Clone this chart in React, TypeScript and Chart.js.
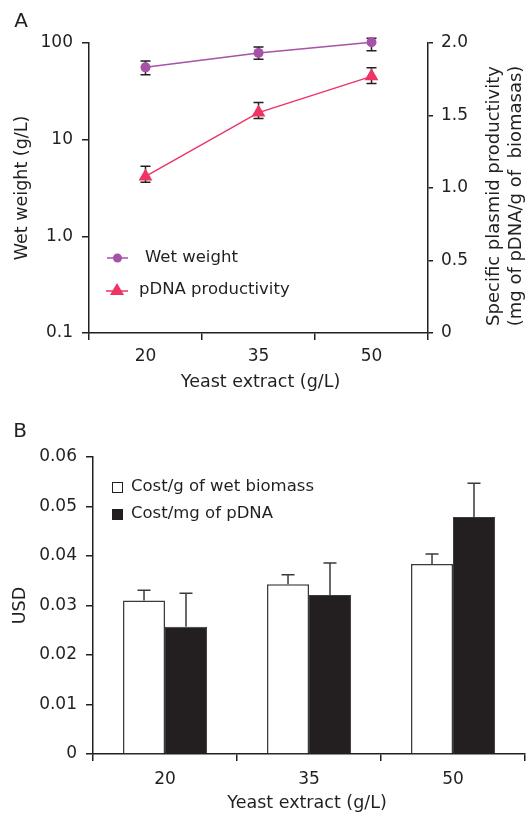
import React, { useEffect, useRef } from 'react';
import { Chart, registerables } from 'chart.js';

Chart.register(...registerables);

// ---------- Data ----------
const categories = ['20', '35', '50'];

// Panel A
const wetWeight = [56, 79, 102];
const wetWeightLow = [47, 68, 83];
const wetWeightHigh = [65, 91, 112];
const pdnaProductivity = [1.08, 1.52, 1.77];
const pdnaLow = [1.04, 1.48, 1.72];
const pdnaHigh = [1.15, 1.59, 1.83];
const leftTickValues = [0.1, 1, 10, 100];
const leftTickLabels = ['0.1', '1.0', '10', '100'];
const rightTickValues = [0, 0.5, 1, 1.5, 2];
const rightTickLabels = ['0', '0.5', '1.0', '1.5', '2.0'];

// Panel B
const costBiomass = [0.031, 0.0343, 0.0384];
const costBiomassHigh = [0.0331, 0.0362, 0.0404];
const costPdna = [0.0257, 0.0321, 0.0479];
const costPdnaHigh = [0.0325, 0.0386, 0.0547];
const usdTickValues = [0, 0.01, 0.02, 0.03, 0.04, 0.05, 0.06];
const usdTickLabels = ['0', '0.01', '0.02', '0.03', '0.04', '0.05', '0.06'];

// ---------- Styles ----------
const INK = '#231f20';
const PURPLE = '#a552a8';
const PINK = '#ed3465';
const FAMILY = '"DejaVu Sans", sans-serif';
const tickFont = { family: FAMILY, size: 17 };

function drawText(ctx: CanvasRenderingContext2D, text: string, x: number, y: number, size: number, rotate = false, align: CanvasTextAlign = 'center') {
  ctx.save();
  ctx.font = `${size}px ${FAMILY}`;
  ctx.fillStyle = INK;
  ctx.textAlign = align;
  ctx.textBaseline = 'middle';
  ctx.translate(x, y);
  if (rotate) ctx.rotate(-Math.PI / 2);
  ctx.fillText(text, 0, 0);
  ctx.restore();
}

const panelAPlugin = {
  id: 'panelA',
  beforeDatasetsDraw(chart: any) {
    const ctx = chart.ctx as CanvasRenderingContext2D;
    const sets = [
      { idx: 0, axis: 'y', lo: wetWeightLow, hi: wetWeightHigh },
      { idx: 1, axis: 'y1', lo: pdnaLow, hi: pdnaHigh },
    ];
    ctx.save();
    ctx.strokeStyle = INK;
    ctx.lineWidth = 1.5;
    sets.forEach((s) => {
      const meta = chart.getDatasetMeta(s.idx);
      const sc = chart.scales[s.axis];
      meta.data.forEach((pt: any, j: number) => {
        const x = pt.x;
        const y1 = sc.getPixelForValue(s.lo[j]);
        const y2 = sc.getPixelForValue(s.hi[j]);
        ctx.beginPath();
        ctx.moveTo(x, y1);
        ctx.lineTo(x, y2);
        ctx.moveTo(x - 5, y1);
        ctx.lineTo(x + 5, y1);
        ctx.moveTo(x - 5, y2);
        ctx.lineTo(x + 5, y2);
        ctx.stroke();
      });
    });
    ctx.restore();
  },
  afterDraw(chart: any) {
    const ctx = chart.ctx as CanvasRenderingContext2D;
    const area = chart.chartArea;
    const cy = (area.top + area.bottom) / 2;
    drawText(ctx, 'A', 21, 22, 20);
    drawText(ctx, 'Wet weight (g/L)', 22, cy, 17.5, true);
    drawText(ctx, 'Yeast extract (g/L)', (area.left + area.right) / 2 + 2, 382, 17.5);
    drawText(ctx, 'Specific plasmid productivity', 494, cy + 8, 18, true);
    drawText(ctx, '(mg of pDNA/g of  biomasas)', 516, cy + 8, 18, true);

    // legend
    ctx.save();
    ctx.lineWidth = 1.5;
    ctx.strokeStyle = PURPLE;
    ctx.beginPath();
    ctx.moveTo(107, 258);
    ctx.lineTo(128, 258);
    ctx.stroke();
    ctx.fillStyle = PURPLE;
    ctx.beginPath();
    ctx.arc(117.5, 258, 4.5, 0, Math.PI * 2);
    ctx.fill();
    ctx.strokeStyle = PINK;
    ctx.beginPath();
    ctx.moveTo(106, 291);
    ctx.lineTo(128, 291);
    ctx.stroke();
    ctx.fillStyle = PINK;
    ctx.beginPath();
    ctx.moveTo(117, 283);
    ctx.lineTo(124, 295);
    ctx.lineTo(110, 295);
    ctx.closePath();
    ctx.fill();
    ctx.restore();
    drawText(ctx, 'Wet weight', 145, 258, 16.5, false, 'left');
    drawText(ctx, 'pDNA productivity', 139, 290, 16.5, false, 'left');
  },
};

const panelBPlugin = {
  id: 'panelB',
  afterDatasetsDraw(chart: any) {
    const ctx = chart.ctx as CanvasRenderingContext2D;
    const sc = chart.scales.y;
    const highs = [costBiomassHigh, costPdnaHigh];
    const vals = [costBiomass, costPdna];
    ctx.save();
    ctx.strokeStyle = '#3a3a3a';
    ctx.lineWidth = 1.5;
    [0, 1].forEach((i) => {
      const meta = chart.getDatasetMeta(i);
      meta.data.forEach((bar: any, j: number) => {
        const x = bar.x;
        const yTop = sc.getPixelForValue(vals[i][j]);
        const yHi = sc.getPixelForValue(highs[i][j]);
        ctx.beginPath();
        ctx.moveTo(x, yTop);
        ctx.lineTo(x, yHi);
        ctx.moveTo(x - 6.5, yHi);
        ctx.lineTo(x + 6.5, yHi);
        ctx.stroke();
      });
    });
    ctx.restore();
  },
  afterDraw(chart: any) {
    const ctx = chart.ctx as CanvasRenderingContext2D;
    const area = chart.chartArea;
    drawText(ctx, 'B', 20, 22, 20);
    drawText(ctx, 'USD', 20, (area.top + area.bottom) / 2, 17.5, true);
    drawText(ctx, 'Yeast extract (g/L)', (area.left + area.right) / 2 - 2, 393, 17.5);
    ctx.save();
    ctx.strokeStyle = INK;
    ctx.lineWidth = 1;
    ctx.fillStyle = '#ffffff';
    ctx.fillRect(112.5, 72.5, 10, 10);
    ctx.strokeRect(112.5, 72.5, 10, 10);
    ctx.fillStyle = INK;
    ctx.fillRect(112, 99, 11, 11);
    ctx.restore();
    drawText(ctx, 'Cost/g of wet biomass', 131, 77, 16.5, false, 'left');
    drawText(ctx, 'Cost/mg of pDNA', 131, 104, 16.5, false, 'left');
  },
};

const axisCommon = {
  grid: { drawOnChartArea: false, drawTicks: true, color: INK, lineWidth: 1.5, tickLength: 7 },
  border: { display: true, color: INK, width: 1.5 },
};

export default function App() {
  const refA = useRef<HTMLCanvasElement>(null);
  const refB = useRef<HTMLCanvasElement>(null);

  useEffect(() => {
    const chartA = new Chart(refA.current as HTMLCanvasElement, {
      type: 'line',
      data: {
        labels: categories,
        datasets: [
          {
            label: 'Wet weight',
            data: wetWeight,
            yAxisID: 'y',
            borderColor: PURPLE,
            backgroundColor: PURPLE,
            borderWidth: 1.5,
            pointStyle: 'circle',
            pointRadius: 5,
            pointBorderWidth: 0,
            clip: false,
          },
          {
            label: 'pDNA productivity',
            data: pdnaProductivity,
            yAxisID: 'y1',
            borderColor: PINK,
            backgroundColor: PINK,
            borderWidth: 1.5,
            pointStyle: 'triangle',
            pointRadius: 8,
            pointBorderWidth: 0,
            clip: false,
          },
        ],
      },
      options: {
        animation: false,
        responsive: false,
        layout: { padding: { top: 43, left: 0, right: 0, bottom: 0 } },
        plugins: { legend: { display: false }, tooltip: { enabled: false } },
        scales: {
          x: {
            type: 'category',
            offset: true,
            ...axisCommon,
            grid: { ...axisCommon.grid, offset: true },
            ticks: { font: tickFont, color: INK, padding: 6, maxRotation: 0 },
            afterFit: (s: any) => { s.height = 67; },
          },
          y: {
            type: 'logarithmic',
            position: 'left',
            min: 0.1,
            max: 100,
            ...axisCommon,
            afterBuildTicks: (s: any) => { s.ticks = leftTickValues.map((v) => ({ value: v })); },
            ticks: {
              font: tickFont,
              color: INK,
              padding: 9,
              callback: (_v: any, i: number) => leftTickLabels[i],
            },
            afterFit: (s: any) => { s.width = 89; },
          },
          y1: {
            type: 'linear',
            position: 'right',
            min: 0,
            max: 2,
            ...axisCommon,
            grid: { ...axisCommon.grid, tickLength: 5 },
            afterBuildTicks: (s: any) => { s.ticks = rightTickValues.map((v) => ({ value: v })); },
            ticks: {
              font: tickFont,
              color: INK,
              padding: 8,
              callback: (_v: any, i: number) => rightTickLabels[i],
            },
            afterFit: (s: any) => { s.width = 100; },
          },
        },
      } as any,
      plugins: [panelAPlugin],
    });

    const chartB = new Chart(refB.current as HTMLCanvasElement, {
      type: 'bar',
      data: {
        labels: categories,
        datasets: [
          {
            label: 'Cost/g of wet biomass',
            data: costBiomass,
            backgroundColor: '#ffffff',
            borderColor: '#3a3a3a',
            borderWidth: 1.5,
            borderSkipped: 'bottom',
          },
          {
            label: 'Cost/mg of pDNA',
            data: costPdna,
            backgroundColor: INK,
            borderColor: '#3a3a3a',
            borderWidth: 1,
            borderSkipped: 'bottom',
          },
        ],
      },
      options: {
        animation: false,
        responsive: false,
        barPercentage: 1,
        categoryPercentage: 0.583,
        layout: { padding: { top: 47, left: 0, right: 3, bottom: 0 } },
        plugins: { legend: { display: false }, tooltip: { enabled: false } },
        scales: {
          x: {
            type: 'category',
            offset: true,
            ...axisCommon,
            grid: { ...axisCommon.grid, offset: true },
            ticks: { font: tickFont, color: INK, padding: 8, maxRotation: 0 },
            afterFit: (s: any) => { s.height = 64; },
          },
          y: {
            type: 'linear',
            position: 'left',
            min: 0,
            max: 0.06,
            ...axisCommon,
            afterBuildTicks: (s: any) => { s.ticks = usdTickValues.map((v) => ({ value: v })); },
            ticks: {
              font: tickFont,
              color: INK,
              padding: 9,
              callback: (_v: any, i: number) => usdTickLabels[i],
            },
            afterFit: (s: any) => { s.width = 93; },
          },
        },
      } as any,
      plugins: [panelBPlugin],
    });

    return () => {
      chartA.destroy();
      chartB.destroy();
    };
  }, []);

  return (
    <div style={{ position: 'absolute', left: 0, top: 0, width: 528, height: 818, background: '#ffffff', overflow: 'hidden' }}>
      <canvas ref={refA} width={528} height={400} style={{ position: 'absolute', left: 0, top: 0, width: 528, height: 400 }} />
      <canvas ref={refB} width={528} height={408} style={{ position: 'absolute', left: 0, top: 410, width: 528, height: 408 }} />
    </div>
  );
}
